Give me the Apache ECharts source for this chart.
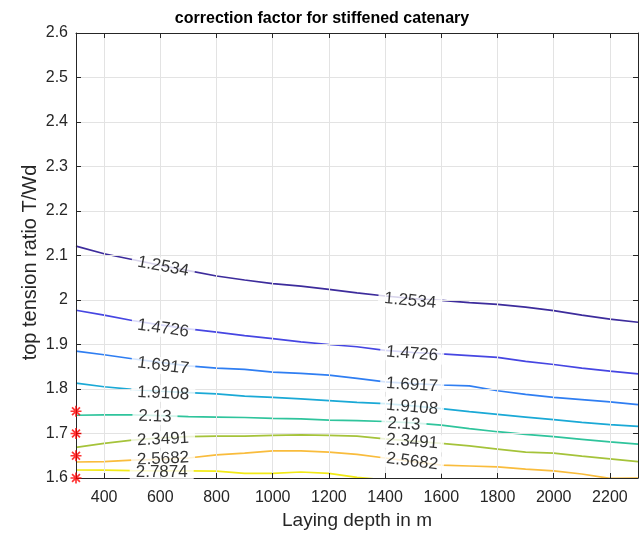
<!DOCTYPE html>
<html>
<head>
<meta charset="utf-8">
<script src="https://cdn.jsdelivr.net/npm/echarts@6/dist/echarts.min.js"></script>
<style>
html, body { margin: 0; padding: 0; background: #fff; }
#main { width: 644px; height: 536px; }
</style>
</head>
<body>
<div id="main"></div>
<script>
// laying depth (x) in m
var depth = [300, 400, 500, 600, 700, 800, 900, 1000, 1100, 1200, 1300,
             1400, 1500, 1600, 1700, 1800, 1900, 2000, 2100, 2200, 2300];

// contour levels (correction factor)
var levels = ['1.2534', '1.4726', '1.6917', '1.9108', '2.13', '2.3491', '2.5682', '2.7874'];

// top tension ratio T/Wd of each contour line, read per depth
var level1 = [2.121, 2.104, 2.091, 2.078, 2.066, 2.054, 2.045, 2.037, 2.031, 2.024, 2.016,
              2.009, 2.003, 1.999, 1.994, 1.990, 1.984, 1.976, 1.966, 1.957, 1.950];
var level2 = [1.977, 1.966, 1.954, 1.944, 1.935, 1.928, 1.920, 1.913, 1.906, 1.900, 1.895,
              1.887, 1.882, 1.879, 1.875, 1.871, 1.862, 1.855, 1.847, 1.840, 1.834];
var level3 = [1.885, 1.877, 1.868, 1.860, 1.852, 1.847, 1.844, 1.838, 1.835, 1.831, 1.824,
              1.816, 1.812, 1.809, 1.807, 1.796, 1.788, 1.781, 1.776, 1.771, 1.765];
var level4 = [1.813, 1.805, 1.799, 1.795, 1.792, 1.789, 1.784, 1.781, 1.778, 1.774, 1.770,
              1.767, 1.762, 1.756, 1.749, 1.743, 1.737, 1.731, 1.725, 1.720, 1.716];
var level5 = [1.741, 1.742, 1.742, 1.740, 1.738, 1.737, 1.736, 1.734, 1.733, 1.730, 1.729,
              1.727, 1.724, 1.719, 1.711, 1.704, 1.698, 1.693, 1.687, 1.681, 1.676];
var level6 = [1.669, 1.678, 1.685, 1.690, 1.693, 1.694, 1.694, 1.696, 1.697, 1.696, 1.694,
              1.688, 1.683, 1.678, 1.672, 1.665, 1.658, 1.656, 1.649, 1.643, 1.637];
var level7 = [1.636, 1.637, 1.640, 1.642, 1.645, 1.652, 1.656, 1.661, 1.661, 1.658, 1.653,
              1.645, 1.637, 1.629, 1.627, 1.625, 1.620, 1.616, 1.609, 1.599, 1.600];
var level8 = [1.618, 1.6175, 1.6165, 1.616, 1.616, 1.6155, 1.6105, 1.6105, 1.6135, 1.6105, 1.6015,
              1.596, null, null, null, null, null, null, null, null, null];
var levelRatios = [level1, level2, level3, level4, level5, level6, level7, level8];

// inline contour labels: which level, and where it sits
var labelLevel = [0, 1, 2, 3, 4, 5, 6, 7, 0, 1, 2, 3, 4, 5, 6];
var labelDepth = [610, 610, 610, 610, 581, 610, 610, 605, 1489, 1496, 1496, 1496, 1467, 1496, 1496];
var labelRatio = [2.075, 1.936, 1.852, 1.790, 1.738, 1.687, 1.643, 1.612,
                  1.998, 1.879, 1.809, 1.759, 1.721, 1.682, 1.637];

// red asterisks on the left edge
var markDepth = [300, 300, 300, 300];
var markRatio = [1.6, 1.65, 1.7, 1.75];

var lineColors = ['#3d2c9c', '#4646e2', '#2f7ef2', '#1aa9d6', '#2fc49c', '#a5c33a', '#f9bc3c', '#f2ea17'];
var font = '"Liberation Sans", Arial, Helvetica, sans-serif';
var axisColor = '#262626';

var myChart = echarts.init(document.getElementById('main'));

// 组装等值线数据
function linePoints(ys) {
    var d = [];
    for (var i = 0; i < depth.length; i++) {
        if (ys[i] != null) d.push([depth[i], ys[i]]);
    }
    return d;
}

var series = [];
for (var k = 0; k < levels.length; k++) {
    series.push({
        name: levels[k],
        type: 'line',
        data: linePoints(levelRatios[k]),
        symbol: 'none',
        clip: true,
        lineStyle: { color: lineColors[k], width: 1.7 },
        z: 2,
        animation: false
    });
}

series.push({
    name: 'marks',
    type: 'scatter',
    data: markDepth.map(function (d, i) { return [d, markRatio[i]]; }),
    symbol: 'path://M0,-5L0,5M-5,0L5,0M-3.6,-3.6L3.6,3.6M-3.6,3.6L3.6,-3.6',
    symbolSize: 11,
    clip: false,
    itemStyle: { color: 'rgba(0,0,0,0)', borderColor: '#ff0000', borderWidth: 1.7 },
    z: 10,
    animation: false
});

var option = {
    animation: false,
    backgroundColor: '#fff',
    title: {
        text: 'correction factor for stiffened catenary',
        left: 'center',
        top: 6,
        textStyle: { fontFamily: font, fontSize: 16, fontWeight: 'bold', color: '#000' }
    },
    grid: { left: 76, right: 6, top: 33, bottom: 58, containLabel: false },
    xAxis: [{
        type: 'value',
        min: 300,
        max: 2300,
        splitNumber: 10,
        position: 'bottom',
        name: 'Laying depth in m',
        nameLocation: 'middle',
        nameGap: 27,
        nameTextStyle: { fontFamily: font, fontSize: 19, color: axisColor },
        axisLine: { lineStyle: { color: axisColor, width: 1 } },
        axisTick: { inside: true, length: 5, lineStyle: { color: axisColor } },
        axisLabel: { fontFamily: font, fontSize: 16, color: axisColor, margin: 12,
                     showMinLabel: false, showMaxLabel: false,
                     formatter: function (v) { return String(v); } },
        splitLine: { show: true, lineStyle: { color: '#e3e3e3', width: 1 } },
        z: 5
    }, {
        type: 'value',
        min: 300,
        max: 2300,
        splitNumber: 10,
        position: 'top',
        axisLine: { lineStyle: { color: axisColor, width: 1 } },
        axisTick: { inside: true, length: 5, lineStyle: { color: axisColor } },
        axisLabel: { show: false },
        splitLine: { show: false },
        z: 5
    }],
    yAxis: [{
        type: 'value',
        min: 1.6,
        max: 2.6,
        interval: 0.1,
        position: 'left',
        name: 'top tension ratio T/Wd',
        nameLocation: 'middle',
        nameGap: 36,
        nameMoveOverlap: false,
        nameTextStyle: { fontFamily: font, fontSize: 20, color: axisColor, padding: [0, 14, 0, 0] },
        axisLine: { show: true, lineStyle: { color: axisColor, width: 1 } },
        axisTick: { show: true, inside: true, length: 5, lineStyle: { color: axisColor } },
        axisLabel: { fontFamily: font, fontSize: 16, color: axisColor, margin: 8 },
        splitLine: { show: true, lineStyle: { color: '#e3e3e3', width: 1 } },
        z: 5
    }, {
        type: 'value',
        min: 1.6,
        max: 2.6,
        interval: 0.1,
        position: 'right',
        axisLine: { show: true, lineStyle: { color: axisColor, width: 1 } },
        axisTick: { show: true, inside: true, length: 5, lineStyle: { color: axisColor } },
        axisLabel: { show: false },
        splitLine: { show: false },
        z: 5
    }],
    series: series
};

myChart.setOption(option);

// 标签角度沿等值线方向(用坐标轴换算成像素后求斜率)
function slopeAngle(levelIdx, x) {
    var ys = levelRatios[levelIdx];
    var i = 0;
    while (i < depth.length - 1 && depth[i + 1] < x) i++;
    var a = Math.max(0, i), b = Math.min(depth.length - 1, i + 1);
    if (ys[b] == null) { b = a; a = a - 1; }
    var p1 = myChart.convertToPixel({ gridIndex: 0 }, [depth[a], ys[a]]);
    var p2 = myChart.convertToPixel({ gridIndex: 0 }, [depth[b], ys[b]]);
    return -Math.atan2(p2[1] - p1[1], p2[0] - p1[0]) * 180 / Math.PI;
}

var labelData = [];
for (var j = 0; j < labelLevel.length; j++) {
    labelData.push({
        value: [labelDepth[j], labelRatio[j]],
        name: levels[labelLevel[j]],
        label: { rotate: slopeAngle(labelLevel[j], labelDepth[j]) }
    });
}

series.push({
    name: 'labels',
    type: 'scatter',
    data: labelData,
    symbol: 'circle',
    symbolSize: 1,
    itemStyle: { color: 'rgba(0,0,0,0)' },
    label: {
        show: true,
        position: 'inside',
        formatter: function (p) { return p.name; },
        fontFamily: font,
        fontSize: 17,
        color: '#000',
        backgroundColor: '#ffffff',
        padding: [0, 6, 0, 6]
    },
    z: 6,
    animation: false
});

myChart.setOption({ series: series });
</script>
</body>
</html>
